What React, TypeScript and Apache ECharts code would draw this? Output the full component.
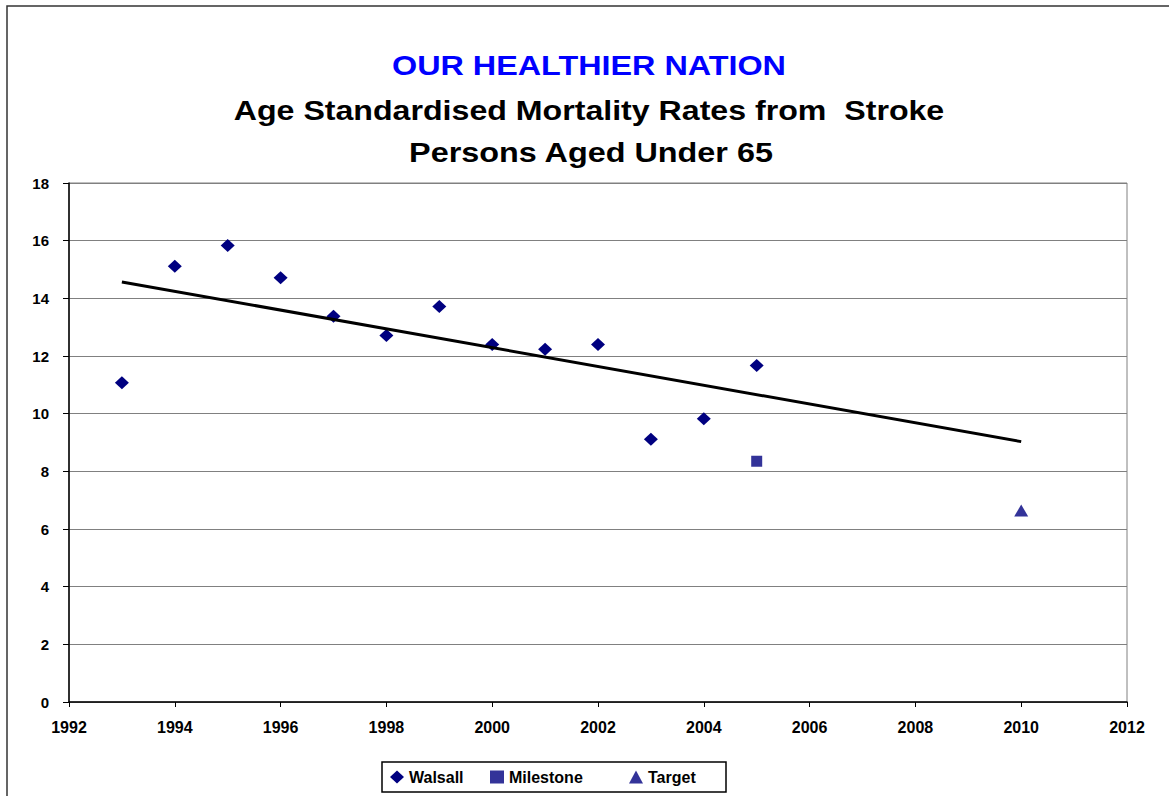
import React, { useEffect, useRef } from "react";
import * as echarts from "echarts";

const years = [1993, 1994, 1995, 1996, 1997, 1998, 1999, 2000, 2001, 2002, 2003, 2004, 2005];
const walsall = [11.07, 15.11, 15.83, 14.71, 13.38, 12.71, 13.72, 12.4, 12.23, 12.4, 9.11, 9.82, 11.67];
const milestoneYears = [2005];
const milestone = [8.35];
const targetYears = [2010];
const target = [6.64];
const trendYears = [1993, 2010];
const trendValues = [14.57, 9.03];

const FONT = '"Liberation Sans", Arial, Helvetica, sans-serif';

export default function App() {
  const ref = useRef<HTMLDivElement>(null);
  useEffect(() => {
    if (!ref.current) return;
    const chart = echarts.init(ref.current, undefined, { renderer: "svg" });
    const legendWidths: Record<string, string> = { Walsall: "w", Milestone: "m", Target: "t" };
    const richBase = { fontSize: 16, fontWeight: "bold", fontFamily: FONT, color: "#000", lineHeight: 16 };
    chart.setOption({
      animation: false,
      backgroundColor: "#fff",
      textStyle: { fontFamily: FONT },
      graphic: [
        {
          type: "rect",
          shape: { x: 7, y: 6, width: 1400, height: 1000 },
          style: { fill: "none", stroke: "#333", lineWidth: 1.5 },
          silent: true,
        },
        {
          type: "text",
          x: 589,
          y: 65,
          scaleX: 1.155,
          style: {
            text: "OUR HEALTHIER NATION",
            fill: "#0000FF",
            fontSize: 28,
            fontWeight: "bold",
            fontFamily: FONT,
            align: "center",
            verticalAlign: "middle",
          },
        },
        {
          type: "text",
          x: 589,
          y: 110,
          scaleX: 1.148,
          style: {
            text: "Age Standardised Mortality Rates from  Stroke",
            fill: "#000",
            fontSize: 28,
            fontWeight: "bold",
            fontFamily: FONT,
            align: "center",
            verticalAlign: "middle",
          },
        },
        {
          type: "text",
          x: 591,
          y: 152,
          scaleX: 1.156,
          style: {
            text: "Persons Aged Under 65",
            fill: "#000",
            fontSize: 28,
            fontWeight: "bold",
            fontFamily: FONT,
            align: "center",
            verticalAlign: "middle",
          },
        },
      ],
      grid: {
        left: 69,
        right: 42,
        top: 183,
        bottom: 94,
        show: true,
        borderColor: "#808080",
        borderWidth: 1,
        backgroundColor: "#fff",
      },
      xAxis: {
        type: "value",
        min: 1992,
        max: 2012,
        interval: 2,
        axisLine: { show: true, lineStyle: { color: "#000", width: 1.5 } },
        axisTick: { show: true, length: 5, lineStyle: { color: "#000" } },
        splitLine: { show: false },
        axisLabel: {
          color: "#000",
          fontSize: 16,
          fontWeight: "bold",
          fontFamily: FONT,
          margin: 17,
          formatter: (v: number) => String(v),
        },
      },
      yAxis: {
        type: "value",
        min: 0,
        max: 18,
        interval: 2,
        axisLine: { show: true, lineStyle: { color: "#000", width: 1.5 } },
        axisTick: { show: true, length: 6, lineStyle: { color: "#000" } },
        splitLine: { show: true, lineStyle: { color: "#808080", width: 1 } },
        axisLabel: {
          color: "#000",
          fontSize: 15,
          fontWeight: "bold",
          fontFamily: FONT,
          margin: 20,
        },
      },
      legend: {
        data: [
          { name: "Walsall", icon: "diamond" },
          { name: "Milestone", icon: "rect" },
          { name: "Target", icon: "triangle" },
        ],
        left: 382,
        top: 762,
        orient: "horizontal",
        itemWidth: 14,
        itemHeight: 13,
        itemGap: 10,
        padding: [7, 8, 7, 8],
        borderColor: "#000",
        borderWidth: 1.5,
        backgroundColor: "#fff",
        formatter: (name: string) => `{${legendWidths[name]}|${name}}`,
        textStyle: {
          rich: {
            w: { ...richBase, width: 71 },
            m: { ...richBase, width: 110 },
            t: { ...richBase, width: 70 },
          },
        },
      },
      series: [
        {
          name: "Walsall",
          type: "scatter",
          symbol: "diamond",
          symbolSize: [14, 13],
          itemStyle: { color: "#000080", opacity: 1 },
          data: years.map((y, i) => [y, walsall[i]]),
          z: 3,
        },
        {
          name: "Milestone",
          type: "scatter",
          symbol: "rect",
          symbolSize: 11,
          itemStyle: { color: "#333399", opacity: 1 },
          data: milestoneYears.map((y, i) => [y, milestone[i]]),
          z: 3,
        },
        {
          name: "Target",
          type: "scatter",
          symbol: "triangle",
          symbolSize: [14, 12],
          itemStyle: { color: "#333399", opacity: 1 },
          data: targetYears.map((y, i) => [y, target[i]]),
          z: 3,
        },
        {
          name: "Trend",
          type: "line",
          showSymbol: false,
          symbol: "none",
          lineStyle: { color: "#000", width: 3 },
          data: trendYears.map((y, i) => [y, trendValues[i]]),
          z: 4,
        },
      ],
    });
    return () => chart.dispose();
  }, []);
  return (
    <div
      ref={ref}
      style={{ position: "fixed", left: 0, top: 0, width: 1169, height: 796, background: "#fff" }}
    />
  );
}
